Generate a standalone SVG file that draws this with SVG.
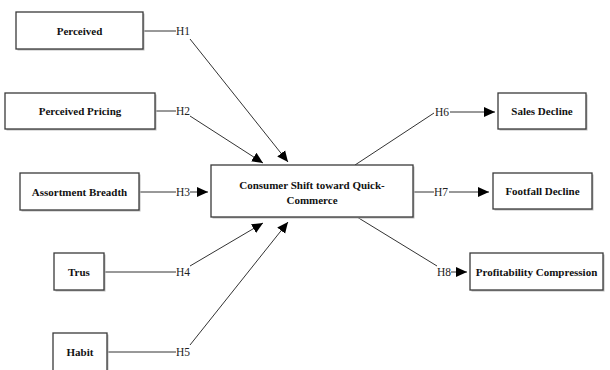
<svg xmlns="http://www.w3.org/2000/svg" width="610" height="370" viewBox="0 0 610 370">
<defs>
<marker id="arr" markerUnits="userSpaceOnUse" markerWidth="12" markerHeight="12" viewBox="0 0 12 12" refX="11" refY="6" orient="auto">
<path d="M0,1 L11,6 L0,11 Z" fill="#000"/>
</marker>
</defs>
<style>
.box{fill:#fff;stroke:#3a3a3a;stroke-width:1.3}
.sh{fill:#bbb}
.t{font-family:"Liberation Serif","Times New Roman",serif;font-weight:bold;font-size:11px;fill:#111;text-anchor:middle}
.h{font-family:"Liberation Serif","Times New Roman",serif;font-size:11.5px;fill:#222}
.c{fill:none;stroke:#333;stroke-width:1}
.ca{fill:none;stroke:#333;stroke-width:1;marker-end:url(#arr)}
</style>
<rect width="610" height="370" fill="#fff"/>
<g id="connectors">
<line class="c" x1="143" y1="31" x2="176" y2="31"/>
<line class="ca" x1="190" y1="39" x2="288" y2="162"/>
<line class="c" x1="155" y1="111" x2="176" y2="111"/>
<line class="ca" x1="190" y1="116" x2="263" y2="163"/>
<line class="c" x1="139" y1="192" x2="176" y2="192"/>
<line class="ca" x1="190" y1="192" x2="208" y2="192"/>
<line class="c" x1="104" y1="272" x2="176" y2="272"/>
<line class="ca" x1="190" y1="266" x2="263" y2="223"/>
<line class="c" x1="107" y1="352" x2="176" y2="352"/>
<line class="ca" x1="190" y1="345" x2="288" y2="222"/>
<line class="c" x1="355" y1="165" x2="434" y2="113"/>
<line class="ca" x1="450" y1="112" x2="495" y2="112"/>
<line class="c" x1="413" y1="192" x2="434" y2="192"/>
<line class="ca" x1="449" y1="192" x2="489" y2="192"/>
<line class="c" x1="357" y1="217" x2="437" y2="266"/>
<line class="ca" x1="451" y1="272" x2="467" y2="272"/>
<text class="h" x="176" y="35">H1</text>
<text class="h" x="176" y="115">H2</text>
<text class="h" x="176" y="196">H3</text>
<text class="h" x="176" y="276">H4</text>
<text class="h" x="176" y="356">H5</text>
<text class="h" x="435" y="116">H6</text>
<text class="h" x="434" y="196">H7</text>
<text class="h" x="437" y="276">H8</text>
</g>
<g id="perceived">
<rect class="sh" x="17.5" y="13.5" width="127" height="37"/>
<rect class="box" x="16" y="12" width="127" height="37"/>
<text class="t" x="79.5" y="35">Perceived</text>
</g>
<g id="perceived-pricing">
<rect class="sh" x="6.5" y="94.5" width="150" height="36"/>
<rect class="box" x="5" y="93" width="150" height="36"/>
<text class="t" x="80" y="115">Perceived Pricing</text>
</g>
<g id="assortment-breadth">
<rect class="sh" x="21.5" y="174.5" width="119" height="37"/>
<rect class="box" x="20" y="173" width="119" height="37"/>
<text class="t" x="79.5" y="196">Assortment Breadth</text>
</g>
<g id="trust">
<rect class="sh" x="55.5" y="254.5" width="50" height="37"/>
<rect class="box" x="54" y="253" width="50" height="37"/>
<text class="t" x="79" y="276">Trus</text>
</g>
<g id="habit">
<rect class="sh" x="54.5" y="334.5" width="54" height="40"/>
<rect class="box" x="53" y="333" width="54" height="40"/>
<text class="t" x="80" y="356">Habit</text>
</g>
<g id="consumer-shift">
<rect class="sh" x="212.5" y="166.5" width="202" height="52"/>
<rect class="box" x="211" y="165" width="202" height="52"/>
<text class="t" x="312" y="188.5">Consumer Shift toward Quick-</text>
<text class="t" x="312" y="204">Commerce</text>
</g>
<g id="sales-decline">
<rect class="sh" x="499.5" y="94.5" width="88" height="36"/>
<rect class="box" x="498" y="93" width="88" height="36"/>
<text class="t" x="542" y="115">Sales Decline</text>
</g>
<g id="footfall-decline">
<rect class="sh" x="494.5" y="174.5" width="99" height="36"/>
<rect class="box" x="493" y="173" width="99" height="36"/>
<text class="t" x="542.5" y="195">Footfall Decline</text>
</g>
<g id="profitability-compression">
<rect class="sh" x="471.5" y="254.5" width="133" height="37"/>
<rect class="box" x="470" y="253" width="133" height="37"/>
<text class="t" x="536.5" y="275.5">Profitability Compression</text>
</g>
</svg>
